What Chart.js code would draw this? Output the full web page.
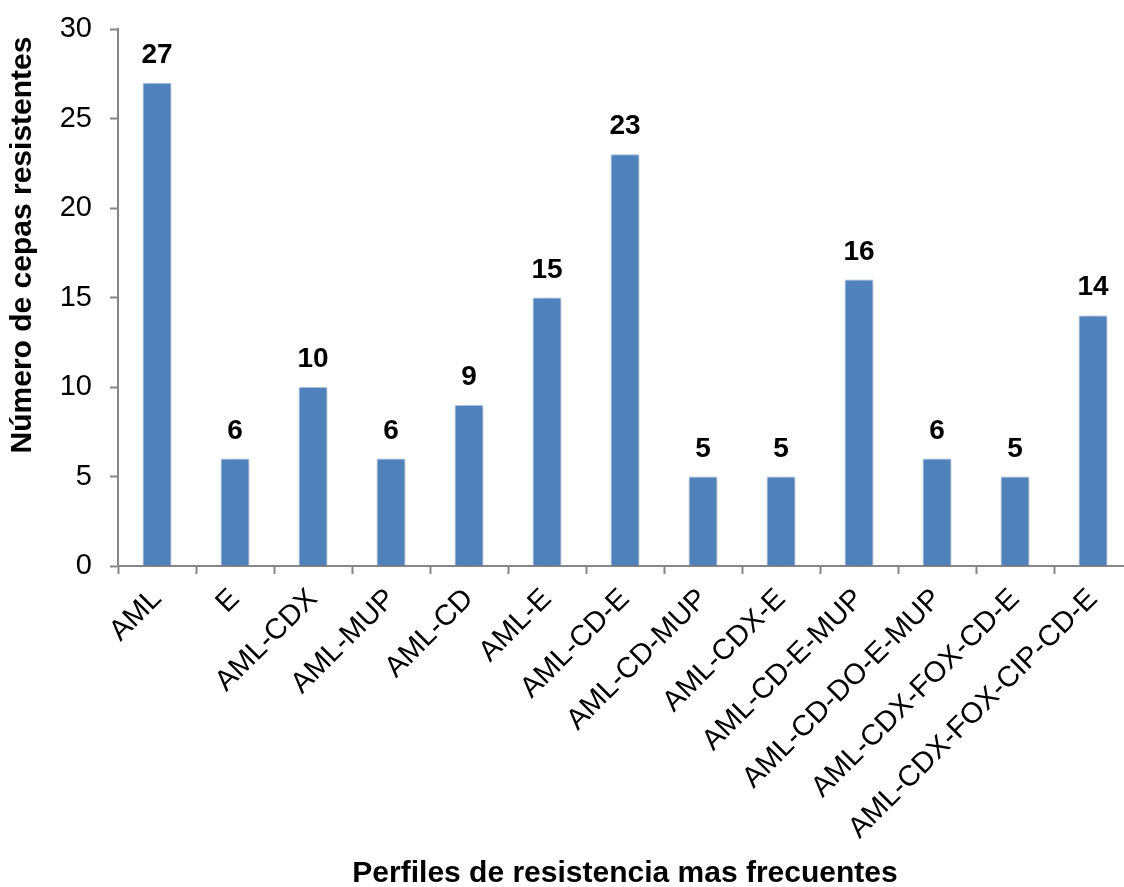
<!DOCTYPE html>
<html>
<head>
<meta charset="utf-8">
<script src="https://cdn.jsdelivr.net/npm/chart.js@4/dist/chart.umd.min.js"></script>
<style>
  html, body { margin: 0; padding: 0; background: #ffffff; overflow: hidden; }
  canvas { display: block; }
</style>
</head>
<body>
<canvas id="chart" width="1140" height="887"></canvas>
<script>
// Resistance profiles and number of resistant strains per profile
const perfiles = [
  'AML', 'E', 'AML-CDX', 'AML-MUP', 'AML-CD', 'AML-E', 'AML-CD-E',
  'AML-CD-MUP', 'AML-CDX-E', 'AML-CD-E-MUP', 'AML-CD-DO-E-MUP',
  'AML-CDX-FOX-CD-E', 'AML-CDX-FOX-CIP-CD-E'
];
const cepas = [27, 6, 10, 6, 9, 15, 23, 5, 5, 16, 6, 5, 14];
const yTicks = [0, 5, 10, 15, 20, 25, 30];

const FONT = "'Liberation Sans', Arial, Helvetica, sans-serif";
const AXIS_GREY = '#868686';
const BAR_BLUE = '#4F81BD';

// Soft glow around each bar
const barShadow = {
  id: 'barShadow',
  beforeDatasetsDraw(chart) {
    const ctx = chart.ctx;
    ctx.save();
    ctx.shadowColor = 'rgba(0,0,0,0.28)';
    ctx.shadowBlur = 5;
    ctx.shadowOffsetX = 1;
    ctx.shadowOffsetY = 1;
  },
  afterDatasetsDraw(chart) {
    chart.ctx.restore();
  }
};

// Value written above each bar
const valueLabels = {
  id: 'valueLabels',
  afterDatasetsDraw(chart) {
    const ctx = chart.ctx;
    const meta = chart.getDatasetMeta(0);
    const values = chart.data.datasets[0].data;
    ctx.save();
    ctx.font = 'bold 28px ' + FONT;
    ctx.fillStyle = '#000000';
    ctx.textAlign = 'center';
    ctx.textBaseline = 'alphabetic';
    meta.data.forEach((bar, i) => {
      ctx.fillText(String(values[i]), bar.x, bar.y - 20);
    });
    ctx.restore();
  }
};

// Vertical axis title
const yTitle = {
  id: 'yTitle',
  afterDraw(chart) {
    const ctx = chart.ctx;
    ctx.save();
    ctx.translate(23, 245);
    ctx.rotate(-Math.PI / 2);
    ctx.font = 'bold 30px ' + FONT;
    ctx.fillStyle = '#000000';
    ctx.textAlign = 'center';
    ctx.textBaseline = 'middle';
    ctx.fillText('Número de cepas resistentes', 0, 0);
    ctx.restore();
  }
};

new Chart(document.getElementById('chart'), {
  type: 'bar',
  data: {
    labels: perfiles,
    datasets: [{
      data: cepas,
      backgroundColor: BAR_BLUE,
      borderColor: '#B9CDE5',
      borderWidth: 1,
      barPercentage: 0.37,
      categoryPercentage: 1.0
    }]
  },
  options: {
    responsive: false,
    animation: false,
    devicePixelRatio: 1,
    layout: { padding: { top: 29, right: 8, left: 0, bottom: 0 } },
    plugins: {
      legend: { display: false },
      tooltip: { enabled: false }
    },
    scales: {
      x: {
        grid: {
          offset: true,
          drawOnChartArea: false,
          drawTicks: true,
          tickLength: 8,
          tickColor: AXIS_GREY,
          tickWidth: 2
        },
        border: { color: AXIS_GREY, width: 2 },
        ticks: {
          color: '#000000',
          font: { family: FONT, size: 29 },
          minRotation: 45,
          maxRotation: 45,
          padding: 8,
          autoSkip: false
        },
        title: {
          display: true,
          text: 'Perfiles de resistencia mas frecuentes',
          color: '#000000',
          font: { family: FONT, size: 30, weight: 'bold', lineHeight: 0.9 },
          padding: { top: 0, bottom: 0 }
        },
        afterFit(scale) { scale.height = 321; }
      },
      y: {
        min: 0,
        max: 30,
        afterBuildTicks(scale) { scale.ticks = yTicks.map(v => ({ value: v })); },
        grid: {
          drawOnChartArea: false,
          drawTicks: true,
          tickLength: 8,
          tickColor: AXIS_GREY,
          tickWidth: 2
        },
        border: { color: AXIS_GREY, width: 2 },
        ticks: {
          color: '#000000',
          font: { family: FONT, size: 29 },
          padding: 18
        },
        afterFit(scale) {
          scale.width = 118;
          scale.paddingTop = 0;
          scale.paddingBottom = 0;
        }
      }
    }
  },
  plugins: [barShadow, valueLabels, yTitle]
});
</script>
</body>
</html>
